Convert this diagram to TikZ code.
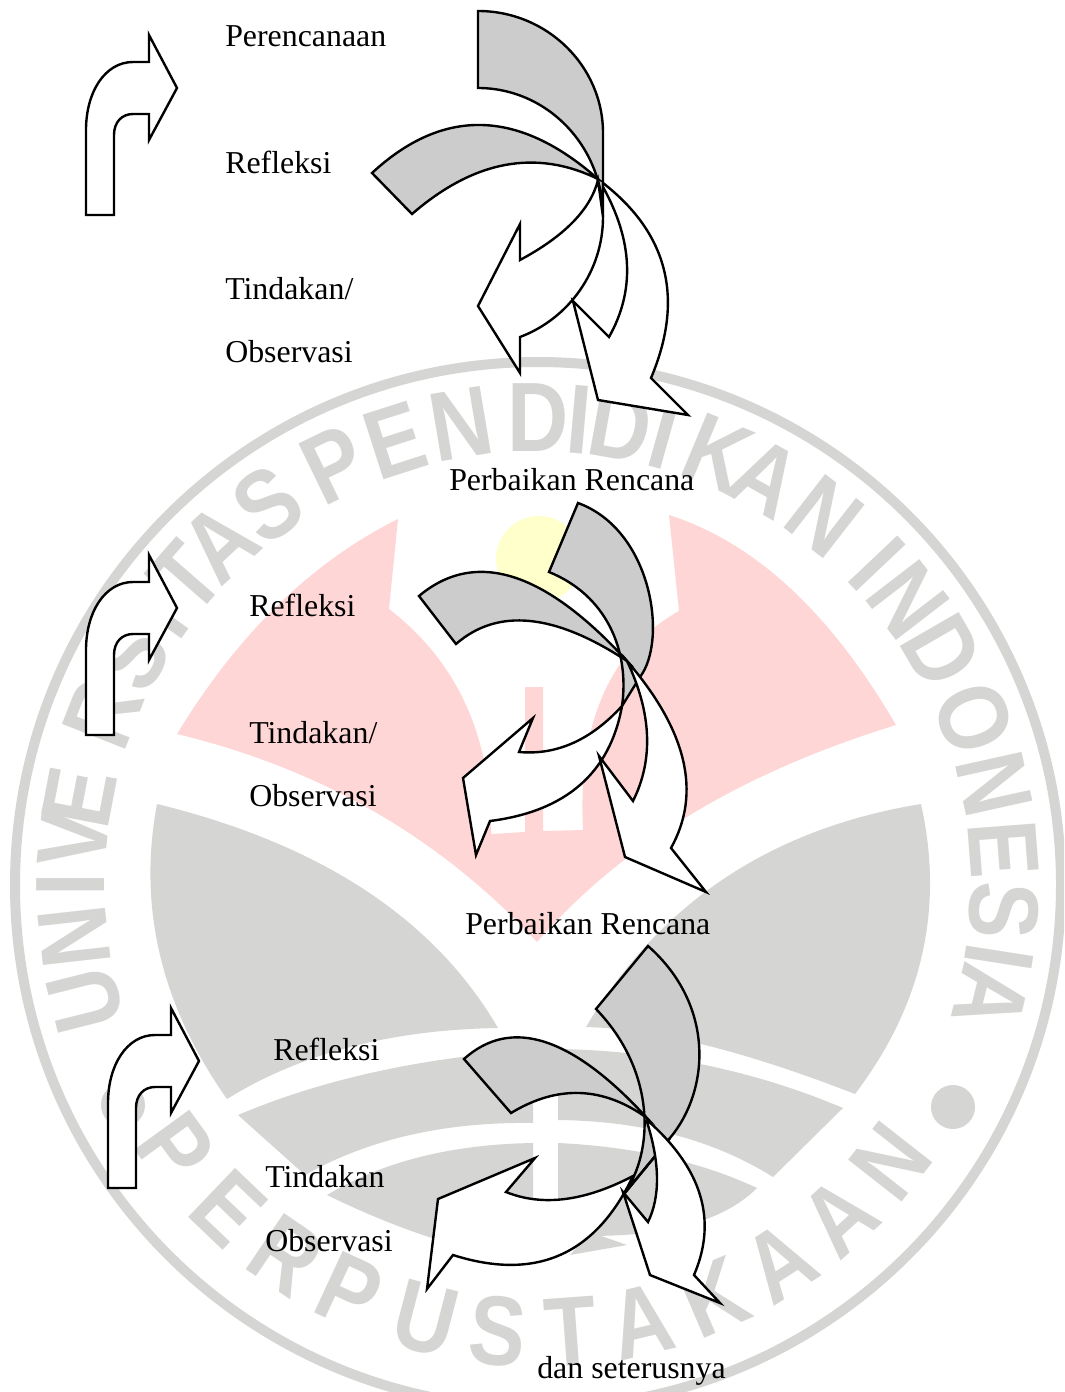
\documentclass[tikz,border=0pt]{standalone}
\usepackage{fontspec}
\setmainfont{Liberation Serif}
\newfontfamily\wmfont[FakeStretch=0.86]{Liberation Sans Bold}
\definecolor{wmgray}{HTML}{D5D5D4}
\definecolor{wmpink}{HTML}{FFD6D6}
\definecolor{wmyellow}{HTML}{FFFFCC}
\definecolor{backgray}{HTML}{CCCCCC}
\tikzset{
  backshape/.style={draw=black,fill=backgray,line width=1.8pt,line join=miter},
  frontshape/.style={draw=black,fill=white,line width=1.8pt,line join=miter},
  label/.style={anchor=base west,inner sep=0pt,font=\fontsize{23.9}{28}\selectfont},
  wmletter/.style={anchor=center,inner sep=0pt,text=wmgray,font=\wmfont\fontsize{74}{78}\selectfont},
}
% parabolic arc from (#1,#2) through (#3,#4) to (#5,#6)
\newcommand{\qd}[6]{.. controls ({#1+2/3*(2*#3-(#1+#5)/2-#1)},{#2+2/3*(2*#4-(#2+#6)/2-#2)}) and ({#5+2/3*(2*#3-(#1+#5)/2-#5)},{#6+2/3*(2*#4-(#2+#6)/2-#6)}) .. (#5,#6)}
\newcommand{\bentarrow}[2]{%
  \begin{scope}[shift={(#1,#2)}]
  \draw[frontshape] (86,215) -- (114,215) -- (114,135)
    .. controls (114,122) and (122,114) .. (133,114)
    -- (149,114) -- (149,140) -- (177,88) -- (149,35) -- (149,62) -- (133,62)
    .. controls (105,62) and (86,92) .. (86,130) -- cycle;
  \end{scope}}
\begin{document}
\begin{tikzpicture}[x=0.75pt,y=-0.75pt]
\clip (0,0) rectangle (1064,1392);
\fill[white] (0,0) rectangle (1064,1392);
% ---------- watermark ----------
\draw[wmgray,line width=7.5pt] (538,885) circle [radius=523];
\fill[wmpink] (398,519) -- (389,609) \qd{389}{609}{466}{705}{491}{834}
  -- (525,832) -- (525,687) -- (543,687) -- (543,831) -- (583,830)
  \qd{583}{830}{603}{695}{679}{611}
  -- (669,515) \qd{669}{515}{790}{588}{896}{725}
  \qd{896}{725}{690}{815}{537}{942}
  \qd{537}{942}{375}{812}{177}{734}
  \qd{177}{734}{278}{605}{398}{519} -- cycle;
\fill[wmyellow] (539,559) circle [radius=43];
\fill[wmgray] (157,804) \qd{157}{804}{160}{955}{227}{1099} \qd{227}{1099}{350}{1047}{498}{1028} \qd{498}{1028}{365}{890}{157}{804} -- cycle;
\fill[wmgray] (921,804) \qd{921}{804}{922}{955}{855}{1094} \qd{855}{1094}{705}{1045}{586}{1027} \qd{586}{1027}{725}{878}{921}{804} -- cycle;
\fill[wmgray] (238,1115) \qd{238}{1115}{375}{1072}{533}{1050} -- (533,1123) \qd{533}{1123}{410}{1135}{305}{1175} -- cycle;
\fill[wmgray] (843,1108) \qd{843}{1108}{705}{1065}{558}{1049} -- (558,1120) \qd{558}{1120}{675}{1135}{773}{1177} -- cycle;
\fill[wmgray] (327,1195) \qd{327}{1195}{420}{1157}{533}{1143} -- (533,1262) \qd{533}{1262}{432}{1238}{327}{1195} -- cycle;
\fill[wmgray] (757,1188) \qd{757}{1188}{665}{1157}{558}{1143} -- (558,1235) \qd{558}{1235}{680}{1227}{757}{1188} -- cycle;
\fill[wmgray] (570,1255) -- (590,1232) -- (627,1245) -- cycle;
\fill[wmgray] (953,1107) circle [radius=22];
\fill[wmgray] (123,1105) circle [radius=22];
\foreach \ch/\a [count=\i] in {U/194.2,N/186.4,I/180,V/174.3,E/169.2,R/158.5,S/150.6,I/144.5,T/138.9,A/132.9,S/125.4,P/115.9,E/107.8,N/99.5,D/90,I/84.9,D/79.8,I/74.4,K/67.4,A/60.8,N/52.1,I/43.4,N/37.6,D/30,O/20.9,N/12.5,E/4.4,S/-3.1,I/-8.9,A/-13.9}
  \node[wmletter,rotate=\a-90] (top\i) at ({538+467*cos(\a)},{885-467*sin(\a)}) {\ch};
\foreach \ch/\a [count=\i] in {P/216,E/226.3,R/235.8,P/245.1,U/255.4,S/264.8,T/274.2,A/283.3,K/293.2,A/302.7,A/312.3,N/321.9}
  \node[wmletter,rotate=\a+90] (bot\i) at ({538+448*cos(\a)},{885-448*sin(\a)}) {\ch};
% ---------- bent arrows ----------
\bentarrow{0}{0}
\bentarrow{0}{520}
\bentarrow{22}{973}
% ---------- unit 1 ----------
\draw[backshape] (478,11) .. controls (547,11) and (603,66) .. (603,133) -- (603,217)
  .. controls (603,146) and (547,88) .. (478,88) -- cycle;
\draw[backshape] (372,173) \qd{372}{173}{482}{125}{598}{179} \qd{598}{179}{505}{165}{412}{214} -- cycle;
\draw[frontshape] (603,217) .. controls (603,271) and (569,318.5) .. (520,337)
  -- (520,373) -- (478,306) -- (520,224) -- (520,260)
  \qd{520}{260}{573}{222}{598}{180} -- cycle;
\draw[frontshape] (603,183) \qd{603}{183}{664}{270}{651}{378}
  -- (688,415) -- (598,400) -- (573,301) -- (609,337)
  \qd{609}{337}{627}{265}{603}{187} -- cycle;
% ---------- unit 2 ----------
\draw[backshape] (578,503) .. controls (652,530) and (668,640) .. (640,677) -- (622,706)
  .. controls (630,650) and (606,595) .. (549,572) -- cycle;
\draw[backshape] (419,596) \qd{419}{596}{513}{577}{627}{661} \qd{627}{661}{530}{621}{456}{644} -- cycle;
\draw[frontshape] (622,706) \qd{622}{706}{580}{785}{490}{821}
  -- (476,855) -- (463,778) -- (533,718) -- (519,752)
  \qd{519}{752}{573}{743}{622}{706} -- cycle;
\draw[frontshape] (627,661) \qd{627}{661}{683}{760}{671}{848}
  -- (706,892) -- (625,857) -- (599,756) -- (633,801)
  \qd{633}{801}{647}{735}{627}{661} -- cycle;
% ---------- unit 3 ----------
\draw[backshape] (648,946) .. controls (715,1005) and (710,1090) .. (670,1138) -- (624,1194)
  .. controls (655,1150) and (655,1070) .. (596,1009) -- cycle;
\draw[backshape] (464,1059) \qd{464}{1059}{545}{1042}{647}{1118} \qd{647}{1118}{580}{1093}{511}{1113} -- cycle;
\draw[frontshape] (633,1176) \qd{633}{1176}{560}{1255}{453}{1255}
  -- (427,1289) -- (438,1199) -- (535,1158) -- (506,1192)
  \qd{506}{1192}{565}{1199}{633}{1176} -- cycle;
\draw[draw=black,line width=1.8pt] (670,1138) -- (624,1194);
\draw[frontshape] (647,1120) \qd{647}{1120}{700}{1195}{694}{1275}
  -- (720,1303) -- (650,1275) -- (623,1192) -- (648,1222)
  \qd{648}{1222}{657}{1178}{647}{1122} -- cycle;
% ---------- labels ----------
\node[label] (t1) at (225,46) {Perencanaan};
\node[label] (t2) at (225,173) {Refleksi};
\node[label] (t3) at (225,299) {Tindakan/};
\node[label] (t4) at (225,362) {Observasi};
\node[label] (t5) at (449,490) {Perbaikan Rencana};
\node[label] (t6) at (249,616) {Refleksi};
\node[label] (t7) at (249,743) {Tindakan/};
\node[label] (t8) at (249,806) {Observasi};
\node[label] (t9) at (465,934) {Perbaikan Rencana};
\node[label] (t10) at (273,1060) {Refleksi};
\node[label] (t11) at (265,1187) {Tindakan};
\node[label] (t12) at (265,1251) {Observasi};
\node[label] (t13) at (537,1378) {dan seterusnya};
\end{tikzpicture}
\end{document}
